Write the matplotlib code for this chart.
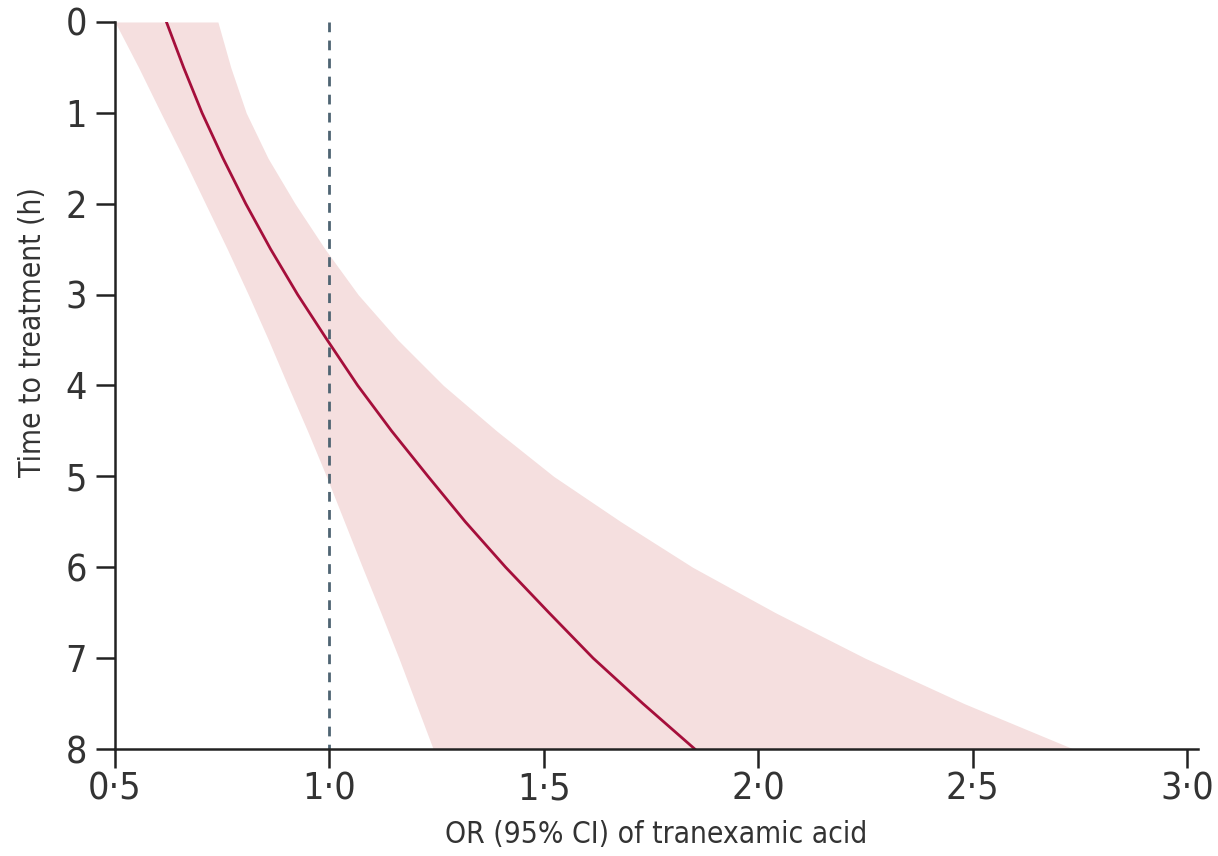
import matplotlib
matplotlib.use('Agg')
import matplotlib.pyplot as plt

plt.rcParams['font.family'] = ['DejaVu Sans']
plt.rcParams['font.stretch'] = 'condensed'

# time to treatment (h) and OR, every half hour
hours = [0, 0.5, 1, 1.5, 2, 2.5, 3, 3.5, 4, 4.5, 5, 5.5, 6, 6.5, 7, 7.5, 8]
or_est = [0.62, 0.660, 0.703, 0.752, 0.805, 0.863, 0.926, 0.995, 1.066,
          1.145, 1.23, 1.317, 1.411, 1.512, 1.615, 1.731, 1.852]
or_low = [0.50, 0.555, 0.607, 0.660, 0.711, 0.762, 0.811, 0.858, 0.903,
          0.949, 0.993, 1.035, 1.077, 1.120, 1.162, 1.202, 1.242]
or_high = [0.74, 0.770, 0.806, 0.857, 0.92, 0.990, 1.067, 1.160, 1.266,
           1.390, 1.523, 1.680, 1.847, 2.040, 2.249, 2.480, 2.735]

xticks = [0.5, 1.0, 1.5, 2.0, 2.5, 3.0]
xticklabels = ['0·5', '1·0', '1·5', '2·0', '2·5', '3·0']
yticks = [0, 1, 2, 3, 4, 5, 6, 7, 8]

line_col = '#a50f3b'
band_col = '#f5dfdf'
ref_col = '#4e6472'

fig = plt.figure(figsize=(12.18, 8.56), dpi=100)
ax = fig.add_axes([0.0944, 0.125, 0.889, 0.8493])

ax.fill_betweenx(hours, or_low, or_high, color=band_col, lw=0)
ax.plot(or_est, hours, color=line_col, lw=2.0)
ax.plot([1.0, 1.0], [0, 8], color=ref_col, lw=2.0, ls=(0, (3.5, 3)))

ax.set_xlim(0.5, 3.025)
ax.set_ylim(8, 0)
ax.set_xticks(xticks)
ax.set_xticklabels(xticklabels)
ax.set_yticks(yticks)

for s in ['top', 'right']:
    ax.spines[s].set_visible(False)
for s in ['left', 'bottom']:
    ax.spines[s].set_linewidth(1.8)
    ax.spines[s].set_color('#222222')
ax.tick_params(axis='both', length=14, width=1.8, color='#222222',
               labelsize=27, labelcolor='#333333')
ax.tick_params(axis='x', pad=2)
ax.tick_params(axis='y', pad=6)

ax.set_xlabel('OR (95% CI) of tranexamic acid', fontsize=21.5, color='#333333', labelpad=9)
ax.set_ylabel('Time to treatment (h)', fontsize=21.5, color='#333333')
ax.yaxis.set_label_coords(-0.063, 0.574)

fig.savefig('out.png', dpi=100)
